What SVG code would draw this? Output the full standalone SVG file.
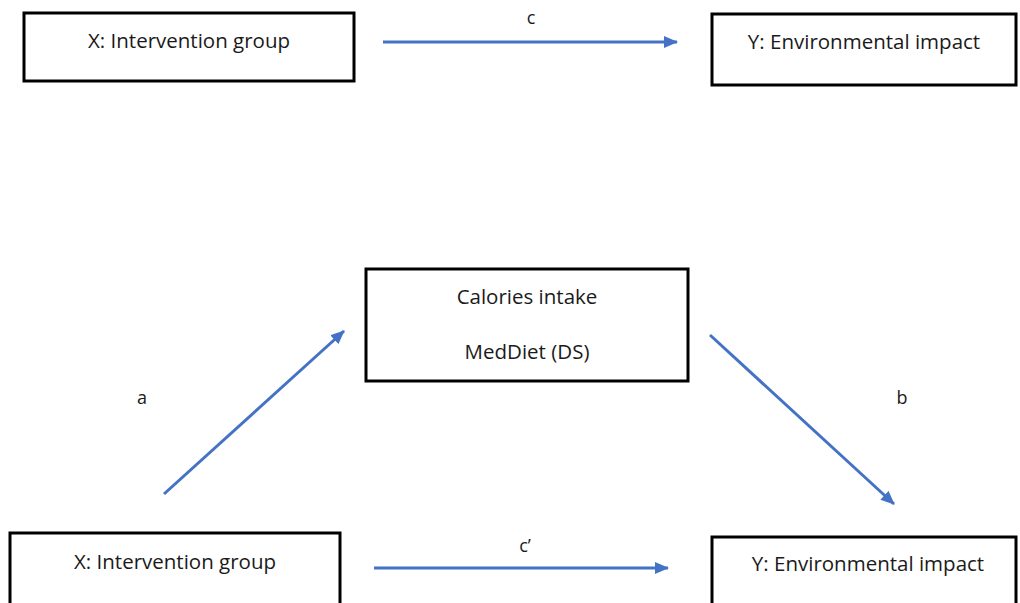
<svg xmlns="http://www.w3.org/2000/svg" width="1020" height="603" viewBox="0 0 1020 603">
<style>
.box{fill:#fff;stroke:#000;stroke-width:3}
.t{font-family:"Open Sans","Liberation Sans",sans-serif;font-size:20.5px;fill:#1a1a1a;text-anchor:middle}
.lbl{font-family:"Open Sans","Liberation Sans",sans-serif;font-size:18px;fill:#1a1a1a;text-anchor:middle}
.arr{stroke:#4472C4;stroke-width:3;fill:none;marker-end:url(#ah)}
</style>
<defs>
<marker id="ah" markerUnits="userSpaceOnUse" markerWidth="14" markerHeight="12" refX="13" refY="6" orient="auto">
<path d="M0,0 L14,6 L0,12 Z" fill="#4472C4"/>
</marker>
</defs>
<rect width="1020" height="603" fill="#fff"/>
<g id="x-top"><rect class="box" x="24" y="13" width="330" height="68"/><text class="t" x="189" y="48">X: Intervention group</text></g>
<g id="y-top"><rect class="box" x="712" y="14" width="304" height="71"/><text class="t" x="864" y="49">Y: Environmental impact</text></g>
<g id="mediator"><rect class="box" x="366" y="269" width="322" height="112"/><text class="t" x="527" y="304">Calories intake</text><text class="t" x="527" y="359">MedDiet (DS)</text></g>
<g id="x-bottom"><rect class="box" x="10" y="533" width="330" height="72"/><text class="t" x="175" y="569">X: Intervention group</text></g>
<g id="y-bottom"><rect class="box" x="712" y="537" width="304" height="70"/><text class="t" x="868" y="571">Y: Environmental impact</text></g>
<g id="connectors">
<line class="arr" x1="383" y1="42" x2="677" y2="42"/>
<line class="arr" x1="164" y1="494" x2="344" y2="331"/>
<line class="arr" x1="710" y1="335" x2="894" y2="504"/>
<line class="arr" x1="374" y1="568" x2="668" y2="568"/>
<text class="lbl" x="531" y="24">c</text>
<text class="lbl" x="142" y="404">a</text>
<text class="lbl" x="902" y="404">b</text>
<text class="lbl" x="525" y="552">c’</text>
</g>
</svg>
